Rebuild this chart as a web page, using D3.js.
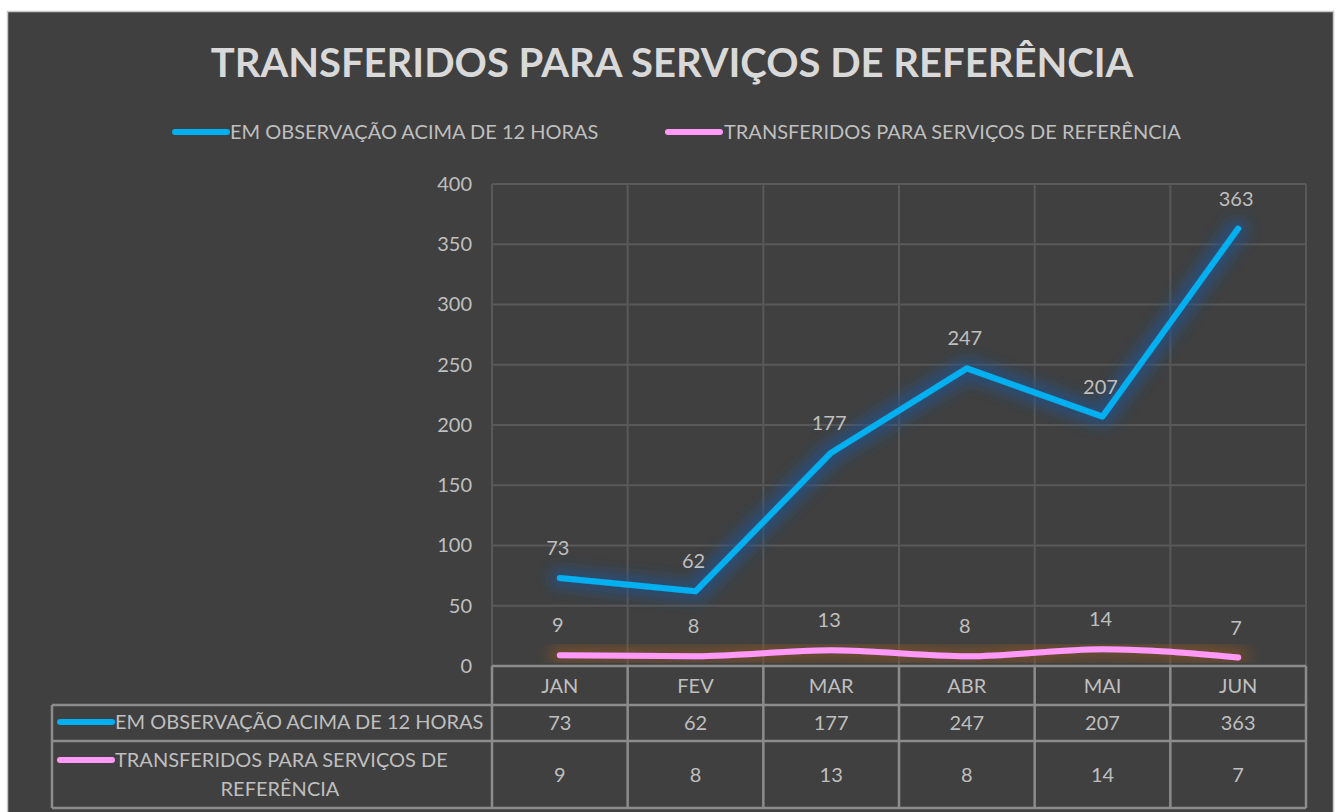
<!DOCTYPE html>
<html>
<head>
<meta charset="utf-8">
<script src="https://cdn.jsdelivr.net/npm/d3@7"></script>
<style>
  body { margin: 0; background: #ffffff; }
  svg { display: block; font-family: Lato, "Open Sans", sans-serif; }
</style>
</head>
<body>
<div id="chart"></div>
<script>
const months = ["JAN", "FEV", "MAR", "ABR", "MAI", "JUN"];
const observacao = [73, 62, 177, 247, 207, 363];
const transferidos = [9, 8, 13, 8, 14, 7];
const yTicks = [0, 50, 100, 150, 200, 250, 300, 350, 400];
const seriesNames = ["EM OBSERVAÇÃO ACIMA DE 12 HORAS", "TRANSFERIDOS PARA SERVIÇOS DE REFERÊNCIA"];

const width = 1336, height = 812;
const plot = { left: 492, right: 1306, top: 184, bottom: 666 };
const textColor = "#bfbfbf";
const gridColor = "#595959";
const tableColor = "#8c8c8c";
const blue = "#00b0f0", pink = "#ff99f7";
const fs = "20px";

const svg = d3.select("#chart").append("svg")
    .attr("width", width)
    .attr("height", height);

// glow filters
const defs = svg.append("defs");
function glow(id, color, op) {
    const f = defs.append("filter").attr("id", id)
        .attr("x", "-20%").attr("y", "-60%").attr("width", "140%").attr("height", "220%");
    f.append("feFlood").attr("flood-color", color).attr("flood-opacity", op).attr("result", "c");
    f.append("feMorphology").attr("in", "SourceAlpha").attr("operator", "dilate").attr("radius", 6).attr("result", "d");
    f.append("feComposite").attr("in", "c").attr("in2", "d").attr("operator", "in").attr("result", "g");
    f.append("feGaussianBlur").attr("in", "g").attr("stdDeviation", 7).attr("result", "b");
    const m = f.append("feMerge");
    m.append("feMergeNode").attr("in", "b");
    m.append("feMergeNode").attr("in", "SourceGraphic");
}
glow("glowBlue", "#24528a", 0.75);
glow("glowPink", "#8a5426", 0.7);

// panel
svg.append("rect")
    .attr("x", 7.5).attr("y", 11.5)
    .attr("width", 1326).attr("height", 810)
    .attr("fill", "#404040")
    .attr("stroke", "#c8c8c8")
    .attr("stroke-width", 1.5);

// title
svg.append("text")
    .attr("x", 672).attr("y", 77)
    .attr("text-anchor", "middle")
    .attr("fill", "#d9d9d9")
    .style("font-size", "40px")
    .style("font-weight", "bold")
    .text("TRANSFERIDOS PARA SERVIÇOS DE REFERÊNCIA");

const x = d3.scaleBand()
    .domain(months)
    .range([plot.left, plot.right]);

const y = d3.scaleLinear()
    .domain([0, 400])
    .range([plot.bottom, plot.top]);

// horizontal grid
svg.append("g").selectAll("line")
    .data(yTicks.filter(d => d > 0))
    .join("line")
    .attr("x1", plot.left).attr("x2", plot.right)
    .attr("y1", d => y(d)).attr("y2", d => y(d))
    .attr("stroke", gridColor).attr("stroke-width", 2);

// vertical grid at band edges
svg.append("g").selectAll("line")
    .data(months)
    .join("line")
    .attr("x1", d => x(d)).attr("x2", d => x(d))
    .attr("y1", plot.top).attr("y2", plot.bottom)
    .attr("stroke", gridColor).attr("stroke-width", 2);
svg.append("line")
    .attr("x1", plot.right).attr("x2", plot.right)
    .attr("y1", plot.top).attr("y2", plot.bottom)
    .attr("stroke", gridColor).attr("stroke-width", 2);

// y axis labels
const yAxis = svg.append("g")
    .attr("transform", `translate(${plot.left - 20},0)`)
    .call(d3.axisLeft(y).tickValues(yTicks).tickSize(0).tickPadding(0));
yAxis.select(".domain").remove();
yAxis.selectAll("text")
    .attr("fill", textColor)
    .style("font-size", fs)
    .style("font-family", "Lato, 'Open Sans', sans-serif");

// lines
const cx = d => x(d) + x.bandwidth() / 2;

svg.append("path")
    .datum(observacao)
    .attr("d", d3.line().x((d, i) => cx(months[i])).y(d => y(d)))
    .attr("fill", "none")
    .attr("stroke", blue)
    .attr("stroke-width", 6)
    .attr("stroke-linecap", "round")
    .attr("stroke-linejoin", "round")
    .attr("filter", "url(#glowBlue)");

svg.append("path")
    .datum(transferidos)
    .attr("d", d3.line().curve(d3.curveMonotoneX).x((d, i) => cx(months[i])).y(d => y(d)))
    .attr("fill", "none")
    .attr("stroke", pink)
    .attr("stroke-width", 6)
    .attr("stroke-linecap", "round")
    .attr("stroke-linejoin", "round")
    .attr("filter", "url(#glowPink)");

// data labels
[observacao, transferidos].forEach(series => {
    svg.append("g").selectAll("text")
        .data(series)
        .join("text")
        .attr("x", (d, i) => cx(months[i]) - 2)
        .attr("y", d => y(d) - 23)
        .attr("text-anchor", "middle")
        .attr("fill", textColor)
        .style("font-size", fs)
        .text(d => d);
});

// data table
const rows = [
    { top: 666, bottom: 705 },
    { top: 705, bottom: 741 },
    { top: 741, bottom: 808 }
];
const tableLeft = 52;
const tg = svg.append("g").attr("stroke", tableColor).attr("stroke-width", 2.5).attr("fill", "none");
tg.append("line").attr("x1", plot.left).attr("x2", plot.right).attr("y1", rows[0].top).attr("y2", rows[0].top);
tg.append("line").attr("x1", tableLeft).attr("x2", plot.right).attr("y1", rows[1].top).attr("y2", rows[1].top);
tg.append("line").attr("x1", tableLeft).attr("x2", plot.right).attr("y1", rows[2].top).attr("y2", rows[2].top);
tg.append("line").attr("x1", tableLeft).attr("x2", plot.right).attr("y1", rows[2].bottom).attr("y2", rows[2].bottom);
tg.append("line").attr("x1", tableLeft).attr("x2", tableLeft).attr("y1", rows[1].top).attr("y2", rows[2].bottom);
tg.selectAll("line.v")
    .data(months)
    .join("line")
    .attr("class", "v")
    .attr("x1", d => x(d)).attr("x2", d => x(d))
    .attr("y1", rows[0].top).attr("y2", rows[2].bottom);
tg.append("line").attr("x1", plot.right).attr("x2", plot.right).attr("y1", rows[0].top).attr("y2", rows[2].bottom);

// table: months
svg.append("g").selectAll("text")
    .data(months)
    .join("text")
    .attr("x", d => cx(d))
    .attr("y", (rows[0].top + rows[0].bottom) / 2 + 7)
    .attr("text-anchor", "middle")
    .attr("fill", textColor)
    .style("font-size", fs)
    .text(d => d);

// table: values
[observacao, transferidos].forEach((series, k) => {
    const r = rows[k + 1];
    svg.append("g").selectAll("text")
        .data(series)
        .join("text")
        .attr("x", (d, i) => cx(months[i]))
        .attr("y", (r.top + r.bottom) / 2 + 7)
        .attr("text-anchor", "middle")
        .attr("fill", textColor)
        .style("font-size", fs)
        .text(d => d);
});

// table: row headers
function swatch(g, x0, y0, color) {
    g.append("line")
        .attr("x1", x0).attr("x2", x0 + 52)
        .attr("y1", y0).attr("y2", y0)
        .attr("stroke", color).attr("stroke-width", 6)
        .attr("stroke-linecap", "round");
}
const th = svg.append("g");
swatch(th, 60, 722, blue);
th.append("text").attr("x", 115).attr("y", 729)
    .attr("fill", textColor).style("font-size", fs)
    .text(seriesNames[0]);
swatch(th, 60, 760, pink);
th.append("text").attr("x", 115).attr("y", 767)
    .attr("fill", textColor).style("font-size", fs)
    .text("TRANSFERIDOS PARA SERVIÇOS DE");
th.append("text").attr("x", 280).attr("y", 796)
    .attr("text-anchor", "middle")
    .attr("fill", textColor).style("font-size", fs)
    .text("REFERÊNCIA");

// legend
const lg = svg.append("g");
swatch(lg, 175, 132, blue);
lg.append("text").attr("x", 230).attr("y", 139)
    .attr("fill", textColor).style("font-size", fs)
    .text(seriesNames[0]);
swatch(lg, 668, 132, pink);
lg.append("text").attr("x", 724).attr("y", 139)
    .attr("fill", textColor).style("font-size", fs)
    .text(seriesNames[1]);
</script>
</body>
</html>
